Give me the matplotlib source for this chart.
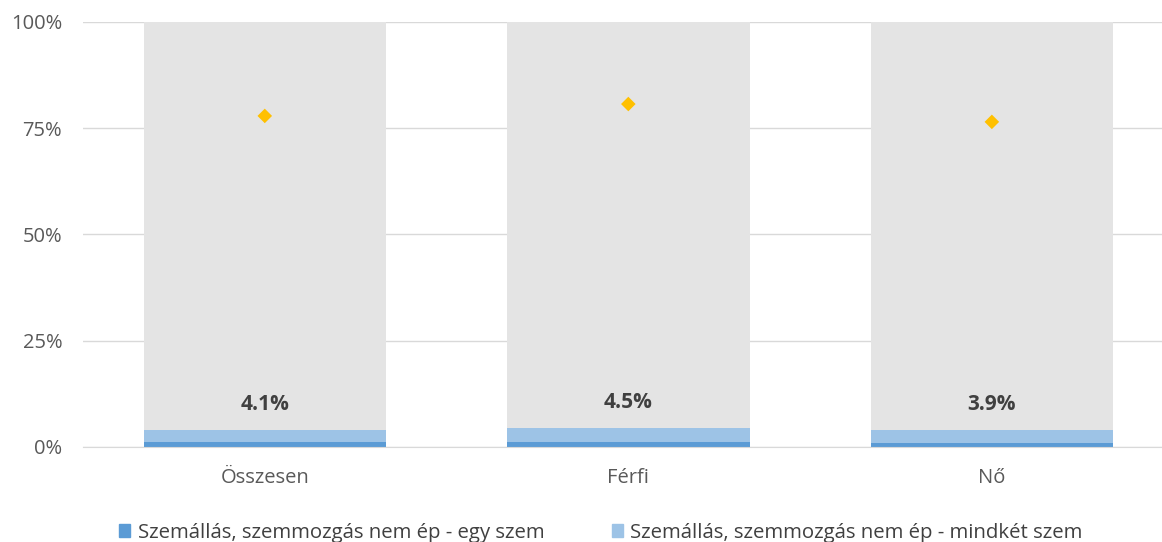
import matplotlib
matplotlib.use("Agg")
import matplotlib.pyplot as plt
from matplotlib.patches import Patch
from matplotlib.ticker import FuncFormatter

categories = ["Összesen", "Férfi", "Nő"]
egy_szem = [1.1, 1.1, 1.0]
mindket_szem = [3.0, 3.4, 2.9]
totals = [4.1, 4.5, 3.9]
diamond = [77.9, 80.7, 76.5]
legend_labels = ["Szemállás, szemmozgás nem ép - egy szem",
                 "Szemállás, szemmozgás nem ép - mindkét szem"]

plt.rcParams['font.family'] = ['Open Sans', 'DejaVu Sans']

fig = plt.figure(figsize=(11.62, 5.42), dpi=100)
ax = fig.add_axes([83/1162, 95/542, 1 - 83/1162, (447-22)/542])

x = list(range(len(categories)))
w = 0.667
dark = "#5B9BD5"
light = "#9DC3E6"
grey = "#E4E4E4"

rest = [100 - a - b for a, b in zip(egy_szem, mindket_szem)]
ax.bar(x, egy_szem, w, color=dark, zorder=2)
ax.bar(x, mindket_szem, w, bottom=egy_szem, color=light, zorder=2)
ax.bar(x, rest, w, bottom=[a + b for a, b in zip(egy_szem, mindket_szem)], color=grey, zorder=2)
ax.scatter(x, diamond, marker="D", s=55, color="#FFC000", zorder=3, edgecolors="none")

for xi, t in zip(x, totals):
    ax.text(xi, t + 6, f"{t:.1f}%", ha="center", va="center", fontsize=15,
            fontweight="bold", color="#404040", zorder=4)

ax.set_ylim(0, 100)
ax.set_xlim(-0.5, 2.468)
ax.set_yticks([0, 25, 50, 75, 100])
ax.yaxis.set_major_formatter(FuncFormatter(lambda v, p: f"{v:.0f}%"))
ax.set_xticks(x)
ax.set_xticklabels(categories)
ax.grid(axis="y", color="#D9D9D9", linewidth=1, zorder=0)
for s in ["top", "right", "left"]:
    ax.spines[s].set_visible(False)
ax.spines["bottom"].set_color("#D9D9D9")
ax.tick_params(axis="both", length=0, labelsize=14.5, colors="#595959")
ax.tick_params(axis="x", pad=15)
ax.tick_params(axis="y", pad=15)

handles = [Patch(color=dark), Patch(color=light)]
fig.legend(handles, legend_labels, loc="lower center", bbox_to_anchor=(0.517, -0.035),
           ncol=2, frameon=False, fontsize=14.7, handlelength=0.55, handleheight=0.55,
           handletextpad=0.35, columnspacing=3.3, labelcolor="#404040")

fig.savefig("out.png", dpi=100)
